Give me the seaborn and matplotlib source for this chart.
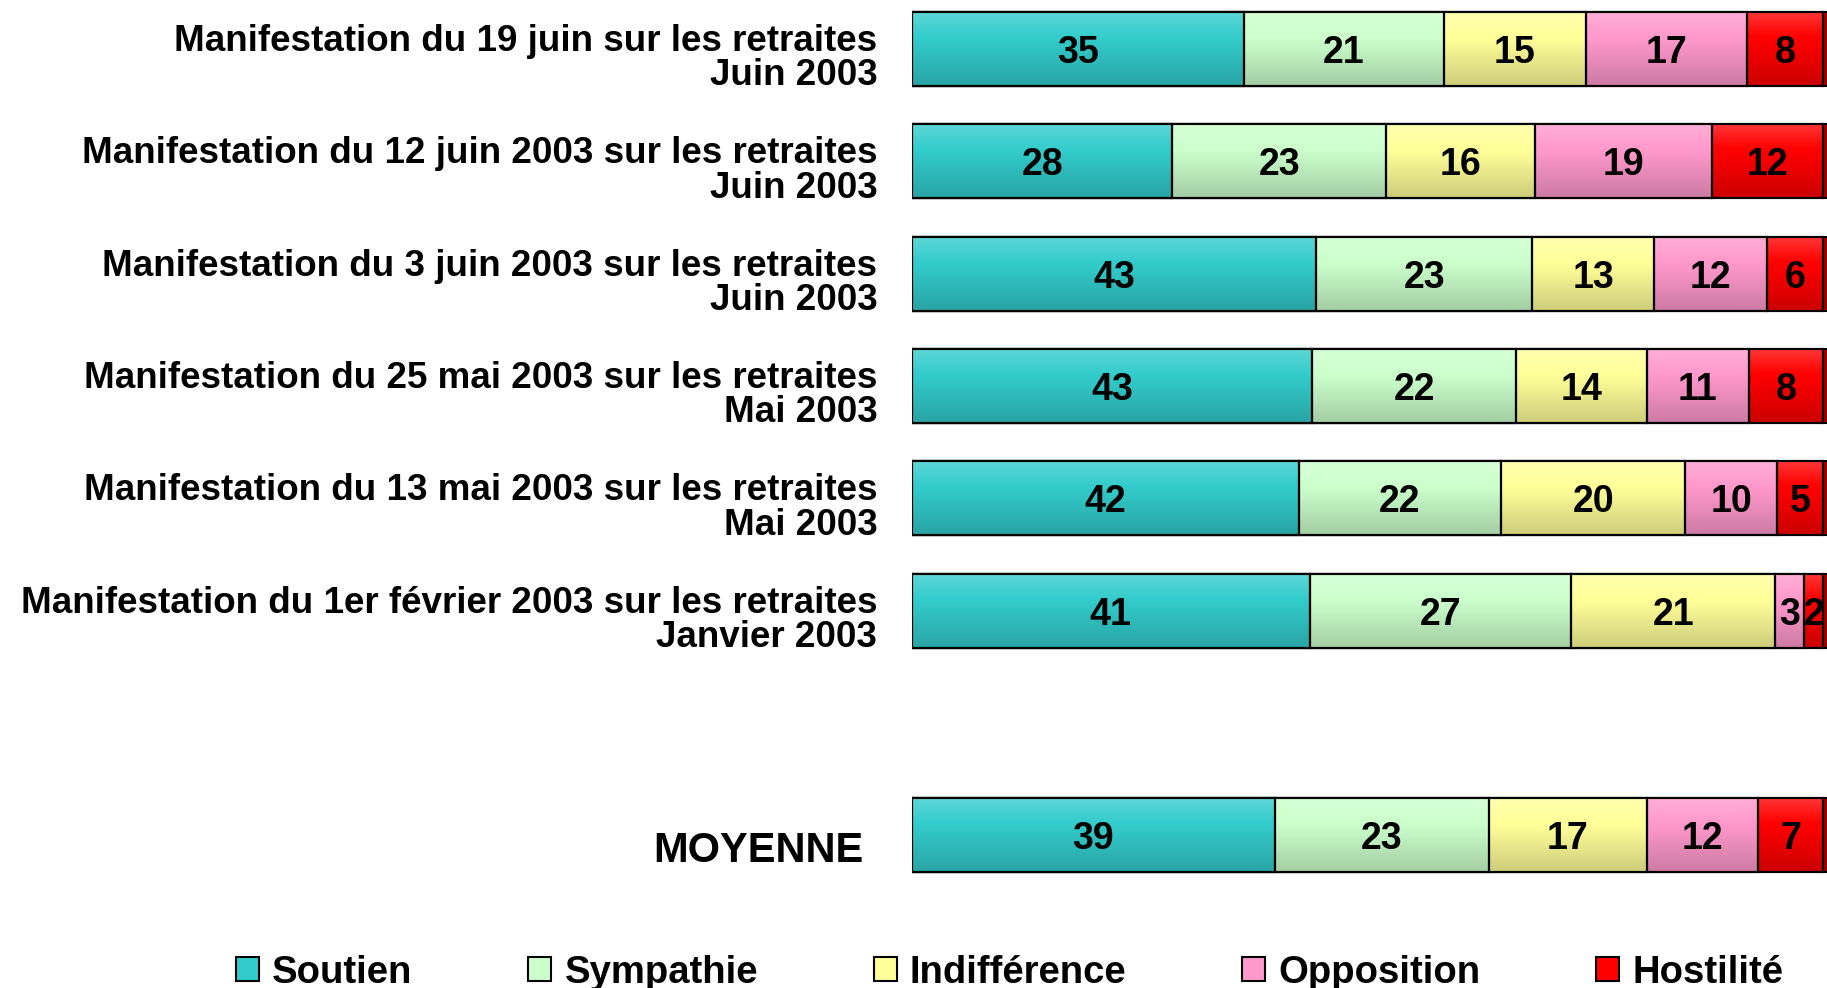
import numpy as np
import pandas as pd
import matplotlib
matplotlib.use("Agg")
import matplotlib.pyplot as plt
from matplotlib.patches import Patch, Rectangle
from matplotlib.transforms import ScaledTranslation
import seaborn as sns

# ── Données ──────────────────────────────────────────────────────────────────
lignes = [
    "Manifestation du 19 juin sur les retraites\nJuin 2003",
    "Manifestation du 12 juin 2003 sur les retraites\nJuin 2003",
    "Manifestation du 3 juin 2003 sur les retraites\nJuin 2003",
    "Manifestation du 25 mai 2003 sur les retraites\nMai 2003",
    "Manifestation du 13 mai 2003 sur les retraites\nMai 2003",
    "Manifestation du 1er février 2003 sur les retraites\nJanvier 2003",
    "MOYENNE",
]
soutien      = [35, 28, 43, 43, 42, 41, 39]
sympathie    = [21, 23, 23, 22, 22, 27, 23]
indifference = [15, 16, 13, 14, 20, 21, 17]
opposition   = [17, 19, 12, 11, 10, 3, 12]
hostilite    = [8, 12, 6, 8, 5, 2, 7]

categories = ["Soutien", "Sympathie", "Indifférence", "Opposition", "Hostilité"]
couleurs = ["#33CCCC", "#CCFFCC", "#FFFF99", "#FF99CC", "#FF0000"]

df = pd.DataFrame({
    "ligne": lignes,
    "Soutien": soutien,
    "Sympathie": sympathie,
    "Indifférence": indifference,
    "Opposition": opposition,
    "Hostilité": hostilite,
})
# chaque barre est ramenée à 100 % de la somme de la ligne
parts = df[categories].div(df[categories].sum(axis=1), axis=0) * 100
cum = parts.cumsum(axis=1)
cum["ligne"] = df["ligne"]

# une case vide entre les manifestations et la moyenne
ordre = lignes[:6] + [" "] + ["MOYENNE"]

sns.set_style("white")
plt.rcParams["font.family"] = ["Liberation Sans", "DejaVu Sans"]
plt.rcParams["text.color"] = "black"

fig = plt.figure(figsize=(18.27, 9.88), dpi=100)
ax = fig.add_axes([0.4992, 0, 0.5008, 1])

BAR_H = 0.66
# barres empilées : on trace les cumuls du plus grand au plus petit
for cat, col in reversed(list(zip(categories, couleurs))):
    sns.barplot(data=cum, x=cat, y="ligne", order=ordre, orient="h",
                color=col, saturation=1, width=BAR_H, errorbar=None,
                edgecolor="black", linewidth=1.5, ax=ax)

# dégradé vertical (haut clair, bas plus sombre) sur chaque barre
n = 64
t = np.linspace(0, 1, n)
grad = np.zeros((n, 1, 4))
blanc = np.clip(0.22 * (1 - t / 0.35), 0, None)
noir = np.clip(0.2 * (t - 0.35) / 0.65, 0, None)
grad[:, 0, :3] = np.where(blanc[:, None] > 0, 1.0, 0.0)
grad[:, 0, 3] = blanc + noir

for i, lab in enumerate(ordre):
    if lab.strip() == "":
        continue
    row = df.loc[df["ligne"] == lab].iloc[0]
    fins = cum.loc[cum["ligne"] == lab, categories].iloc[0]
    prts = parts.loc[df["ligne"] == lab, categories].iloc[0]
    total = fins[categories[-1]]
    # petit bout du cylindre, plus sombre, au-delà de 100 %
    ax.add_patch(Rectangle((total, i - BAR_H / 2), 1.5, BAR_H,
                           fc="#A00000", ec="black", lw=1.5, zorder=0.9))
    ax.imshow(grad, extent=(0, total, i + BAR_H / 2, i - BAR_H / 2),
              origin="upper", aspect="auto", zorder=1.5, interpolation="bilinear")
    for cat in categories:
        fin, larg = fins[cat], prts[cat]
        ax.add_patch(Rectangle((fin - larg, i - BAR_H / 2), larg, BAR_H,
                               fill=False, ec="black", lw=1.5, zorder=3))
        ax.annotate(f"{row[cat]}", xy=(fin - larg / 2, i), xytext=(0, -3),
                    textcoords="offset points", ha="center", va="center",
                    fontsize=27, fontweight="bold", color="black", zorder=4)

ax.set_xlim(0, 100.4)
ax.set_ylim(8.36, -0.436)
ax.set_xlabel("")
ax.set_ylabel("")
ax.set_xticks([])
sns.despine(ax=ax, left=True, bottom=True)

ax.set_yticks(range(len(ordre)))
ax.set_yticklabels([l if l != "MOYENNE" else "" for l in ordre],
                   fontweight="bold", fontsize=26.5, linespacing=0.98)
ax.tick_params(axis="y", length=0, pad=25, labelcolor="black")
decalage = ScaledTranslation(0, -6 / 100, fig.dpi_scale_trans)
for tl in ax.get_yticklabels():
    tl.set_transform(tl.get_transform() + decalage)

ax.annotate("MOYENNE", xy=(0, ordre.index("MOYENNE")), xytext=(-35, -11),
            textcoords="offset points", ha="right", va="center",
            fontsize=30, fontweight="bold", color="black")

poignees = [Patch(facecolor=c, edgecolor="black", linewidth=1.5) for c in couleurs]
fig.legend(poignees, categories, loc="center", bbox_to_anchor=(0.5527, 0.0155),
           ncol=5, frameon=False, prop={"weight": "bold", "size": 27.5},
           handlelength=0.6, handleheight=0.6, handletextpad=0.35,
           columnspacing=3.03, borderaxespad=0, labelcolor="black")

fig.savefig("out.png", dpi=100)
